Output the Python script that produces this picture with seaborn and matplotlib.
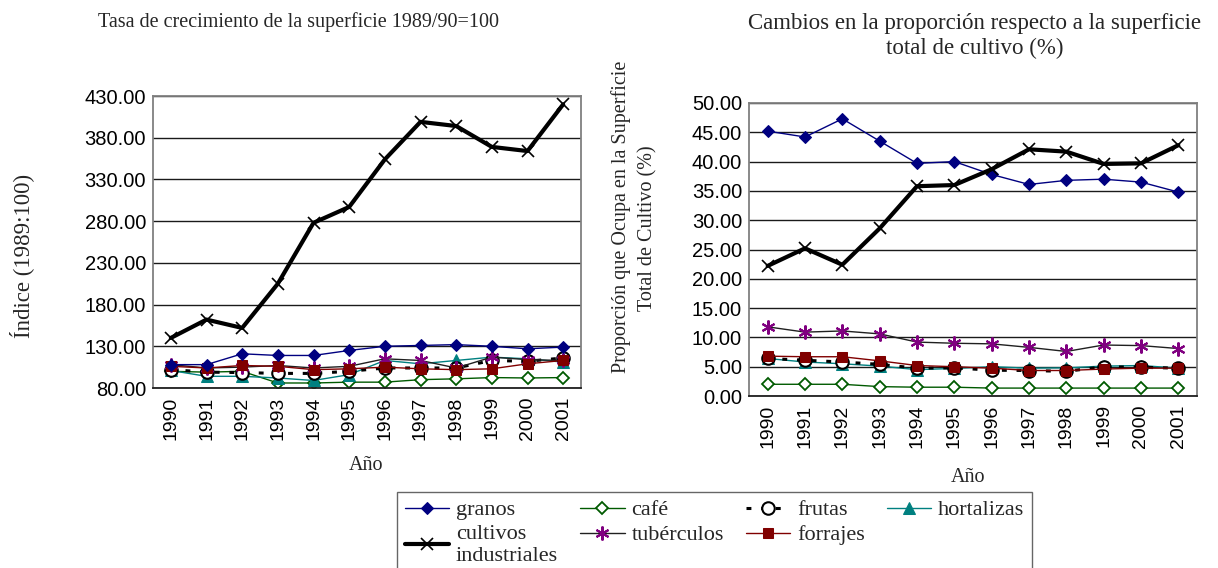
import numpy as np
import pandas as pd
import matplotlib
matplotlib.use("Agg")
import matplotlib.pyplot as plt
import seaborn as sns

# -----------------------------
# DATA
# -----------------------------
years = ["1990", "1991", "1992", "1993", "1994", "1995",
         "1996", "1997", "1998", "1999", "2000", "2001"]

# left: growth index (1989/90 = 100)
idx_granos = [108, 108, 121, 119, 119, 125, 130, 131, 132, 130, 127, 129]
idx_cafe = [100, 99, 100, 86, 86, 87, 87, 90, 91, 92.5, 92, 92.5]
idx_frutas = [102, 99, 98.5, 97.5, 97.5, 100, 104, 104, 104, 113, 112, 116]
idx_hortalizas = [101, 94, 94, 92, 89, 96, 113, 109, 113, 117, 115, 111]
idx_industriales = [140, 162, 152, 205, 278, 297, 354, 399, 394, 369, 364, 420]
idx_tuberculos = [108, 104, 105, 107, 104, 106, 115, 113, 104, 117, 114, 113]
idx_forrajes = [106, 104, 107, 106, 102, 103, 105, 103, 102, 103, 109, 113]

# right: share of total cultivated area (%)
pct_granos = [45.2, 44.2, 47.3, 43.5, 39.7, 40.0, 37.8, 36.1, 36.8, 37.0, 36.5, 34.8]
pct_cafe = [2.0, 2.0, 2.0, 1.6, 1.5, 1.5, 1.35, 1.35, 1.35, 1.35, 1.35, 1.35]
pct_frutas = [6.4, 6.1, 5.8, 5.4, 4.75, 4.8, 4.4, 4.35, 4.2, 5.0, 4.9, 4.75]
pct_hortalizas = [6.4, 5.8, 5.5, 5.1, 4.5, 4.7, 5.0, 4.75, 4.8, 5.1, 5.2, 4.75]
pct_industriales = [22.2, 25.2, 22.4, 28.6, 35.8, 36.0, 38.7, 42.1, 41.7, 39.6, 39.7, 42.8]
pct_tuberculos = [11.8, 10.9, 11.1, 10.6, 9.2, 9.0, 8.9, 8.3, 7.6, 8.7, 8.6, 8.1]
pct_forrajes = [6.8, 6.7, 6.7, 6.0, 5.2, 5.0, 4.75, 4.35, 4.35, 4.6, 4.75, 4.75]

labels = ["granos", "café", "frutas", "hortalizas",
          "cultivos\nindustriales", "tubérculos", "forrajes"]

# -----------------------------
# STYLE
# -----------------------------
sns.set_theme(style="white")
plt.rcParams['font.family'] = ['Liberation Sans', 'DejaVu Sans']
SERIF = ['Liberation Serif', 'DejaVu Serif']

series_style = {
    "granos": dict(color="#000080", lw=1.0, marker="D", markersize=6,
                   markerfacecolor="#000080", markeredgecolor="#000080"),
    "café": dict(color="#005a00", lw=1.0, marker="D", markersize=6,
                 markerfacecolor="white", markeredgecolor="#005a00", markeredgewidth=1.3),
    "frutas": dict(color="black", lw=2.2, linestyle=(0, (1.6, 3.2)), marker="o", markersize=9,
                   markerfacecolor="white", markeredgecolor="black", markeredgewidth=1.5),
    "hortalizas": dict(color="#008080", lw=1.0, marker="^", markersize=8,
                       markerfacecolor="#008080", markeredgecolor="#008080"),
    "cultivos\nindustriales": dict(color="black", lw=3.0, marker="x", markersize=9,
                                   markeredgecolor="black", markeredgewidth=1.2),
    "tubérculos": dict(color="#202020", lw=1.0, marker=(6, 2, 0), markersize=10,
                       markeredgecolor="#800080", markeredgewidth=1.5),
    "forrajes": dict(color="#800000", lw=1.0, marker="s", markersize=7,
                     markerfacecolor="#800000", markeredgecolor="#800000"),
}

fig = plt.figure(figsize=(12.18, 5.68), dpi=100)
ax1 = fig.add_axes([153 / 1218, 1 - 388 / 568, 428 / 1218, 292 / 568])
ax2 = fig.add_axes([749 / 1218, 1 - 396 / 568, 448 / 1218, 293 / 568])

pos = np.arange(len(years))
left_data = [idx_granos, idx_cafe, idx_frutas, idx_hortalizas,
             idx_industriales, idx_tuberculos, idx_forrajes]
right_data = [pct_granos, pct_cafe, pct_frutas, pct_hortalizas,
              pct_industriales, pct_tuberculos, pct_forrajes]

# draw order: thin lines first, industrial on top
order = [1, 3, 2, 5, 6, 0, 4]
for ax, data in [(ax1, left_data), (ax2, right_data)]:
    for i in order:
        sns.lineplot(x=pos, y=data[i], ax=ax, label=labels[i], legend=False,
                     **series_style[labels[i]])


def style_axis(ax, ymin, ymax, step):
    ax.set_xlim(-0.5, len(years) - 0.5)
    ax.set_ylim(ymin, ymax)
    ax.set_yticks(np.arange(ymin, ymax + 0.01, step))
    ax.yaxis.set_major_formatter(matplotlib.ticker.FormatStrFormatter('%.2f'))
    ax.set_xticks(pos)
    ax.set_xticklabels(years, rotation=90)
    ax.set_xticks(np.arange(-0.5, len(years), 1), minor=True)
    ax.tick_params(axis='x', which='major', length=0, pad=6, labelsize=14, colors='black')
    ax.tick_params(axis='x', which='minor', length=5, width=1, color='#404040', direction='out')
    ax.tick_params(axis='y', length=4, width=1, color='#404040', direction='out',
                   labelsize=14.5, pad=1, colors='black')
    ax.yaxis.grid(True, color='#1a1a1a', lw=1.0)
    ax.xaxis.grid(False)
    for side in ['top', 'right', 'left']:
        ax.spines[side].set_color('#808080')
        ax.spines[side].set_linewidth(1.3)
    ax.spines['bottom'].set_color('#202020')
    ax.spines['bottom'].set_linewidth(1.3)
    ax.set_xlabel("")
    ax.set_ylabel("")


style_axis(ax1, 80, 430, 50)
style_axis(ax2, 0, 50, 5)

# -----------------------------
# TEXTS
# -----------------------------
fig.text(298 / 1218, 1 - 22 / 568, "Tasa de crecimiento de la superficie 1989/90=100",
         ha='center', va='center', fontsize=14.5, family=SERIF)
fig.text(975 / 1218, 1 - 36 / 568,
         "Cambios en la proporción respecto a la superficie\ntotal de cultivo (%)",
         ha='center', va='center', fontsize=16.5, family=SERIF, linespacing=1.2)
fig.text(22 / 1218, 1 - 256 / 568, "Índice (1989:100)", rotation=90,
         ha='center', va='center', fontsize=16.5, family=SERIF)
fig.text(621 / 1218, 1 - 217 / 568, "Proporción que Ocupa en la Superficie",
         rotation=90, ha='center', va='center', fontsize=14.5, family=SERIF)
fig.text(648 / 1218, 1 - 228 / 568, "Total de Cultivo (%)",
         rotation=90, ha='center', va='center', fontsize=14.5, family=SERIF)
fig.text(366 / 1218, 1 - 465 / 568, "Año", ha='center', va='center',
         fontsize=14.5, family=SERIF)
fig.text(968 / 1218, 1 - 477 / 568, "Año", ha='center', va='center',
         fontsize=14.5, family=SERIF)

# -----------------------------
# LEGEND (row-wise order)
# -----------------------------
handles, labs = ax1.get_legend_handles_labels()
lookup = dict(zip(labs, handles))
leg_order = ["granos", "cultivos\nindustriales", "café", "tubérculos",
             "frutas", "forrajes", "hortalizas"]
leg = fig.legend([lookup[k] for k in leg_order], leg_order, ncol=4,
                 loc='upper left', bbox_to_anchor=(397 / 1218, 1 - 492 / 568),
                 frameon=True, fancybox=False, edgecolor='#404040',
                 prop={'family': SERIF, 'size': 16}, handlelength=2.0,
                 handletextpad=0.3, columnspacing=1.0, borderpad=0.35,
                 labelspacing=0.2, borderaxespad=0)
leg.get_frame().set_linewidth(1.0)

fig.savefig("out.png", dpi=100)
